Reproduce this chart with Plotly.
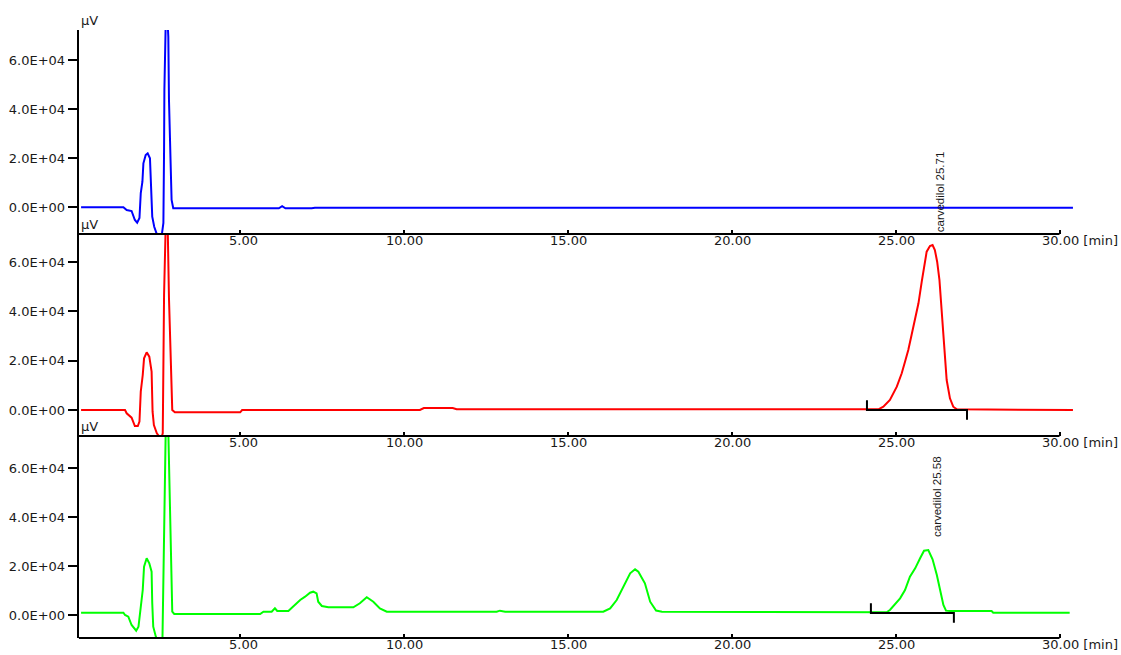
import plotly.graph_objects as go

W, H = 1121, 655

# ---- chromatogram data: retention time [min] and detector response [µV] ----
blue_t = [0.17, 1.46, 1.56, 1.71, 1.81, 1.88, 1.95, 1.99, 2.04, 2.07, 2.14, 2.20, 2.27,
          2.30, 2.34, 2.40, 2.49, 2.63, 2.68, 2.70, 2.71, 2.75, 2.81, 2.83, 2.85, 2.90,
          2.93, 2.98, 6.20, 6.30, 6.40, 7.20, 7.30, 30.41]
blue_v = [-120, -120, -1220, -1630, -5300, -6400, -4490, 5710, 10320, 17830, 21220, 21900, 19870,
          8280, -3960, -8040, -11500, -11500, -6530, 23260, 47740, 75000, 75000, 69480, 43660, 17830,
          2860, -530, -530, 300, -530, -530, -300, -300]

red_t = [0.17, 1.51, 1.56, 1.71, 1.81, 1.90, 1.95, 1.99, 2.05, 2.09, 2.17, 2.25, 2.32,
         2.35, 2.39, 2.48, 2.58, 2.62, 2.66, 2.68, 2.70, 2.75, 2.81, 2.85, 2.90, 2.95,
         3.03, 5.02, 5.08, 10.50, 10.62, 11.50, 11.62, 24.48, 24.63, 24.83, 25.04, 25.19,
         25.29, 25.39, 25.49, 25.60, 25.70, 25.80, 25.88, 25.95, 26.05, 26.13, 26.20,
         26.27, 26.34, 26.41, 26.48, 26.56, 26.66, 26.76, 26.87, 29.77, 29.80, 30.41]
red_v = [0, 0, -1340, -3110, -6490, -6490, -4730, 7430, 14190, 20950, 23380, 21610, 15540,
         -680, -6080, -9460, -11200, -11200, -9460, 23630, 46620, 75000, 75000, 45280, 18240, 0,
         -950, -950, 0, 0, 800, 800, 280, 280, 1340, 4050, 9450, 14880,
         19580, 24320, 30400, 36490, 43250, 52020, 59470, 64170, 66490, 66900, 64860,
         60120, 52700, 39200, 25660, 12160, 4740, 1340, 280, 280, 0, 0]

green_t = [0.17, 1.46, 1.51, 1.61, 1.71, 1.85, 1.92, 1.97, 2.05, 2.09, 2.17, 2.25, 2.32,
           2.34, 2.37, 2.45, 2.52, 2.65, 2.68, 2.71, 2.73, 2.75, 2.83, 2.88, 2.92, 2.95,
           3.01, 5.63, 5.73, 5.98, 6.08, 6.15, 6.49, 6.64, 6.85, 7.00, 7.15, 7.25, 7.35,
           7.40, 7.51, 7.71, 8.47, 8.67, 8.88, 9.08, 9.28, 9.49, 12.84, 12.94, 13.10,
           16.09, 16.30, 16.50, 16.70, 16.91, 17.06, 17.16, 17.36, 17.52, 17.70, 17.88,
           24.73, 24.83, 25.14, 25.29, 25.44, 25.60, 25.75, 25.87, 26.00, 26.13, 26.26,
           26.36, 26.46, 26.54, 26.66, 27.93, 27.98, 30.31]
green_v = [940, 940, 0, -690, -4080, -6390, -4770, 2040, 10200, 19720, 23130, 21090, 17680,
           4760, -4770, -8840, -11000, -11000, 11560, 31950, 52350, 75000, 75000, 44190, 17000, 1360,
           410, 400, 1360, 1360, 2720, 1630, 1630, 3400, 6120, 7470, 9110, 9520, 8840,
           5430, 3670, 3140, 3140, 4770, 7230, 5430, 2720, 1360, 1360, 1770, 1360,
           1360, 2720, 6120, 11560, 17000, 18630, 17680, 12920, 5430, 1800, 1360,
           1100, 2040, 6800, 10200, 15640, 19040, 23130, 26230, 26520, 22710, 16320,
           10200, 4080, 1770, 1630, 1630, 940, 940]

traces = [(blue_t, blue_v, "#0000ff"), (red_t, red_v, "#ff0000"), (green_t, green_v, "#00ff00")]

# integrated peaks: panel index, name, retention time, apex height, start, end, baseline level
peak_panel = [1, 2]
peak_name = ["carvedilol", "carvedilol"]
peak_rt = [25.71, 25.58]
peak_height = [66900, 26520]
peak_start = [24.13, 24.25]
peak_end = [27.18, 26.78]
peak_base = [0, 816]

y_ticks = [0, 20000, 40000, 60000]
y_tick_text = ["0.0E+00", "2.0E+04", "4.0E+04", "6.0E+04"]
x_ticks = [5, 10, 15, 20, 25, 30]
x_tick_text = ["5.00", "10.00", "15.00", "20.00", "25.00", "30.00 [min]"]
y_unit = "µV"

# ---- layout geometry (pixels) ----
PX0, PXS = 75.5, 32.8            # pixel of t=0 and pixels per minute
PLOT_L, PLOT_R = 78.7, 1076.0
panels_px = [(30, 234), (234, 436), (436, 638)]
y_ranges = [(-11016, 72216), (-10540, 71350), (-9384, 73032)]
x_range = [(PLOT_L - PX0) / PXS, (PLOT_R - PX0) / PXS]

AX_FONT = dict(family="DejaVu Sans", size=13, color="#1a1a1a")
LBL_FONT = dict(family="Liberation Sans", size=11.5, color="#1a1a1a")

fig = go.Figure()
layout = dict(
    width=W, height=H, margin=dict(l=0, r=0, t=0, b=0),
    paper_bgcolor="white", plot_bgcolor="white", showlegend=False,
)
shapes, annotations = [], []

for i, ((top, bot), yr, (t, v, col)) in enumerate(zip(panels_px, y_ranges, traces)):
    n = "" if i == 0 else str(i + 1)
    xa, ya = "xaxis" + n, "yaxis" + n
    layout[xa] = dict(
        domain=[PLOT_L / W, PLOT_R / W], range=x_range, anchor="y" + n,
        showgrid=False, zeroline=False, showline=False,
        ticks="inside", ticklen=4, tickwidth=2, tickcolor="black",
        tickvals=x_ticks, showticklabels=False, fixedrange=True,
    )
    layout[ya] = dict(
        domain=[1 - bot / H, 1 - top / H], range=list(yr), anchor="x" + n,
        showgrid=False, zeroline=False, showline=True, linecolor="black", linewidth=2,
        ticks="outside", ticklen=9, tickwidth=2, tickcolor="black",
        tickvals=y_ticks, ticktext=y_tick_text, tickfont=AX_FONT, fixedrange=True,
    )
    fig.add_trace(go.Scatter(x=t, y=v, mode="lines", line=dict(color=col, width=2),
                             xaxis="x" + n, yaxis="y" + n, hoverinfo="skip"))
    # x axis line ends at the last tick
    shapes.append(dict(type="line", xref="x" + n, yref="y" + n + " domain",
                       x0=x_range[0], x1=x_ticks[-1], y0=0, y1=0,
                       line=dict(color="black", width=2)))
    # tick labels aligned on the decimal point
    for tv, tt in zip(x_ticks, x_tick_text):
        n_int = len(tt.split(".")[0])
        annotations.append(dict(
            text=tt, xref="x" + n, x=tv, yref="paper", y=1 - bot / H,
            xanchor="left", yanchor="top", xshift=-11 if n_int == 1 else -17.5, yshift=1,
            showarrow=False, font=AX_FONT, borderpad=0, borderwidth=0))
    annotations.append(dict(
        text=y_unit, xref="paper", x=81 / W, yref="paper", y=1 - top / H,
        xanchor="left", yanchor="bottom", yshift=2, showarrow=False,
        font=AX_FONT, borderpad=0, borderwidth=0))

# integration baselines and peak labels above each apex
for p, name, rt, hgt, s, e, b in zip(peak_panel, peak_name, peak_rt, peak_height,
                                      peak_start, peak_end, peak_base):
    n = str(p + 1)
    tick = 4000
    fig.add_trace(go.Scatter(x=[s, s, e, e], y=[b + tick, b, b, b - tick], mode="lines",
                             line=dict(color="black", width=2),
                             xaxis="x" + n, yaxis="y" + n, hoverinfo="skip"))
    annotations.append(dict(
        text=f"{name} {rt:.2f}", xref="x" + n, x=rt, yref="y" + n, y=hgt,
        xanchor="center", yanchor="bottom", xshift=22, yshift=13, textangle=-90,
        showarrow=False, font=LBL_FONT, borderpad=0, borderwidth=0))

layout["shapes"] = shapes
layout["annotations"] = annotations
fig.update_layout(**layout)
fig.write_html("out.html")
